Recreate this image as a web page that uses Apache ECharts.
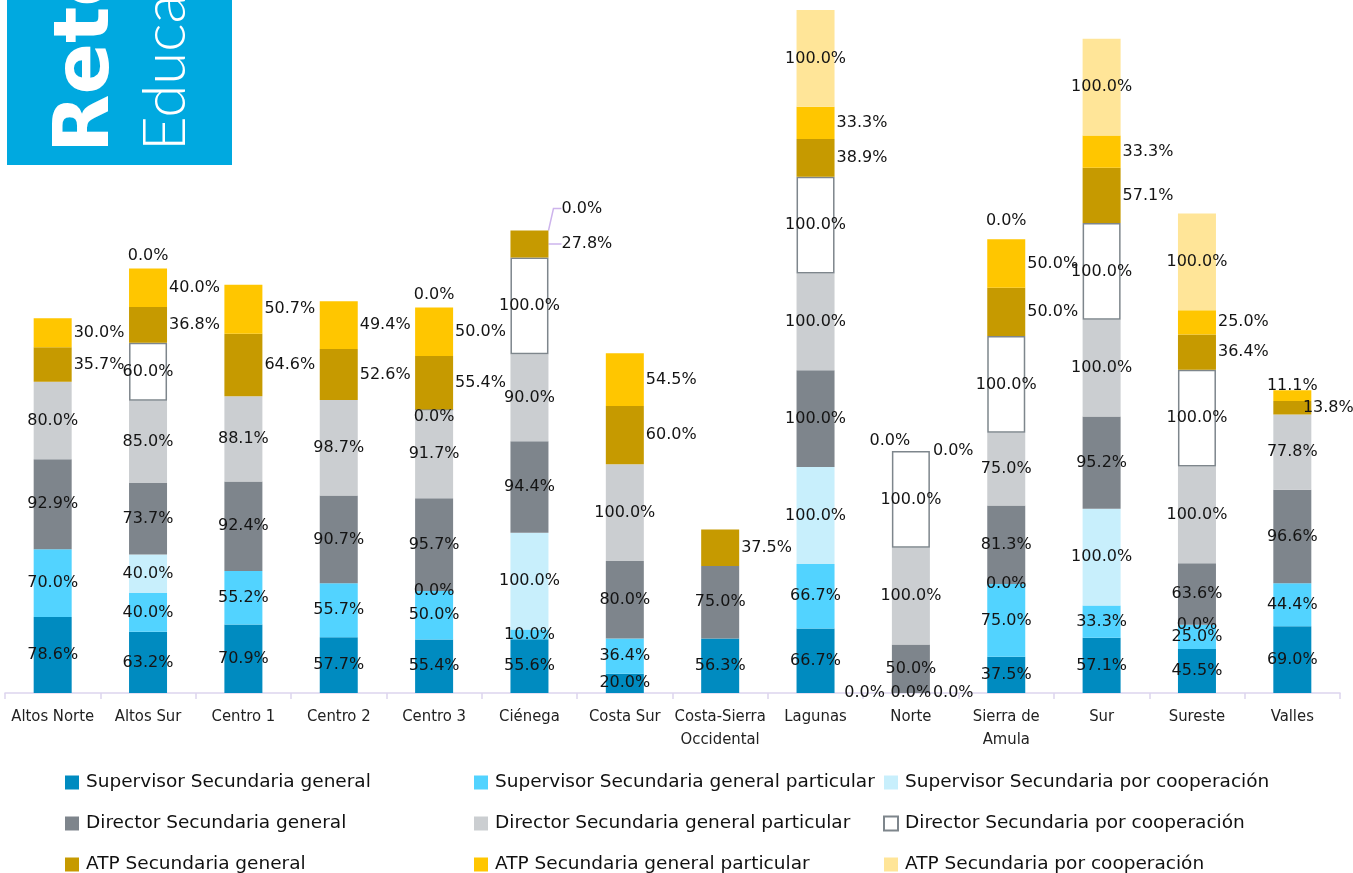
<!DOCTYPE html>
<html>
<head>
<meta charset="utf-8">
<script src="https://cdn.jsdelivr.net/npm/echarts@6/dist/echarts.min.js"></script>
<style>
html,body{margin:0;padding:0;background:#fff;}
#main{width:1353px;height:873px;}
</style>
</head>
<body>
<div id="main"></div>
<script>
// ---- DATA ----
var categories = ['Altos Norte','Altos Sur','Centro 1','Centro 2','Centro 3','Ciénega','Costa Sur','Costa-Sierra\nOccidental','Lagunas','Norte','Sierra de\nAmula','Sur','Sureste','Valles'];
var seriesNames = ['Supervisor Secundaria general','Supervisor Secundaria general particular','Supervisor Secundaria por cooperación','Director Secundaria general','Director Secundaria general particular','Director Secundaria por cooperación','ATP Secundaria general','ATP Secundaria general particular','ATP Secundaria por cooperación'];
var supGeneral      = [78.6, 63.2, 70.9, 57.7, 55.4, 55.6, 20.0, 56.3, 66.7, 0.0, 37.5, 57.1, 45.5, 69.0];
var supParticular   = [70.0, 40.0, 55.2, 55.7, 50.0, 10.0, 36.4, null, 66.7, 0.0, 75.0, 33.3, 25.0, 44.4];
var supCooperacion  = [null, 40.0, null, null, 0.0, 100.0, null, null, 100.0, 0.0, 0.0, 100.0, 0.0, null];
var dirGeneral      = [92.9, 73.7, 92.4, 90.7, 95.7, 94.4, 80.0, 75.0, 100.0, 50.0, 81.3, 95.2, 63.6, 96.6];
var dirParticular   = [80.0, 85.0, 88.1, 98.7, 91.7, 90.0, 100.0, null, 100.0, 100.0, 75.0, 100.0, 100.0, 77.8];
var dirCooperacion  = [null, 60.0, null, null, 0.0, 100.0, null, null, 100.0, 100.0, 100.0, 100.0, 100.0, null];
var atpGeneral      = [35.7, 36.8, 64.6, 52.6, 55.4, 27.8, 60.0, 37.5, 38.9, 0.0, 50.0, 57.1, 36.4, 13.8];
var atpParticular   = [30.0, 40.0, 50.7, 49.4, 50.0, null, 54.5, null, 33.3, 0.0, 50.0, 33.3, 25.0, 11.1];
var atpCooperacion  = [null, 0.0, null, null, 0.0, 0.0, null, null, 100.0, null, 0.0, 100.0, 100.0, null];

// ---- STYLE ----
var allData = [supGeneral, supParticular, supCooperacion, dirGeneral, dirParticular, dirCooperacion, atpGeneral, atpParticular, atpCooperacion];
var colors = ['#008BC0','#52D3FF','#C8EFFC','#7E858C','#CBCED1','#FFFFFF','#C69A00','#FFC600','#FFE598'];
var labelFont = 'DejaVu Sans';
var labelSize = 16;

function defaultLabel(si, v) {
  if (si === 6 || si === 7) return {position: 'right', distance: 2};
  if (si === 8 && v === 0) return {position: 'top', distance: 5};
  return {position: 'inside'};
}
// per-item label position adjustments keyed "seriesIndex-categoryIndex"
var labelOverrides = {
  '0-9': {position: 'left', distance: 7},
  '2-9': {position: 'right', distance: 3},
  '6-9': {position: 'top'},
  '7-9': {position: 'right', distance: 3},
  '8-5': {position: 'right', distance: 2},
  '7-13': {position: 'inside'},
  '6-13': {position: 'inside'}
};
// label shifts (dx, dy); guide: draw a leader line
var labelShifts = {
  '6-5': {dx: 11, dy: 0, guide: true},
  '8-5': {dx: 11, dy: -22, guide: true},
  '6-9': {dx: -21, dy: 0},
  '5-4': {dx: 0, dy: 7},
  '7-13': {dx: 0, dy: -10},
  '6-13': {dx: 36, dy: 0},
  '8-10': {dx: 0, dy: -5}
};

var series = allData.map(function (arr, si) {
  return {
    name: seriesNames[si],
    type: 'bar',
    stack: 'total',
    barWidth: 38,
    itemStyle: si === 5 ? {color: '#FFFFFF', borderColor: '#7E868C', borderWidth: 1.5} : {color: colors[si]},
    data: arr.map(function (v, ci) {
      if (v === null) return null;
      var key = si + '-' + ci;
      var lab = Object.assign({show: true}, defaultLabel(si, v), labelOverrides[key] || {});
      var item = {value: v, label: lab};
      if (labelShifts[key] && labelShifts[key].guide) {
        item.labelLine = {show: true, length2: 8, lineStyle: {color: '#CDB4EC', width: 1.5}};
      }
      return item;
    }),
    label: {
      show: true,
      fontFamily: labelFont,
      fontSize: labelSize,
      color: '#141414',
      formatter: function (p) { return p.value.toFixed(1) + '%'; }
    },
    labelLine: {show: false},
    labelLayout: function (p) {
      var m = labelShifts[p.seriesIndex + '-' + p.dataIndex];
      return m ? {dx: m.dx, dy: m.dy} : undefined;
    },
    emphasis: {disabled: true}
  };
});

function legendCol(left, idxs) {
  return {
    orient: 'vertical',
    left: left,
    top: 768,
    height: 160,
    itemWidth: 14,
    itemHeight: 14,
    itemGap: 22,
    icon: 'rect',
    data: idxs.map(function (i) { return seriesNames[i]; }),
    textStyle: {fontFamily: 'DejaVu Sans', fontSize: 18.5, lineHeight: 18, color: '#111', padding: [0, 0, 0, 2]}
  };
}

var chart = echarts.init(document.getElementById('main'), null, {renderer: 'canvas'});
chart.setOption({
  animation: false,
  backgroundColor: '#fff',
  grid: {left: 5, right: 13, top: 0, bottom: 180, containLabel: false},
  xAxis: {
    type: 'category',
    data: categories,
    axisLine: {lineStyle: {color: '#DDD5EE', width: 1.5}},
    axisTick: {show: true, length: 6, lineStyle: {color: '#DDD5EE', width: 1.5}},
    axisLabel: {interval: 0, fontFamily: "'DejaVu Sans Condensed', 'Liberation Sans'", fontSize: 16.5, color: '#222', margin: 12, lineHeight: 23}
  },
  yAxis: {type: 'value', min: 0, max: 716, show: false, splitLine: {show: false}},
  legend: [legendCol(60, [0, 3, 6]), legendCol(469, [1, 4, 7]), legendCol(878, [2, 5, 8])],
  graphic: [
    {type: 'rect', left: 7, top: 0, shape: {width: 225, height: 165}, style: {fill: '#00A9E0'}, silent: true},
    {type: 'text', x: 126, y: 153, rotation: Math.PI / 2, silent: true,
      style: {text: 'Reto', fill: '#fff', font: 'bold 76px "DejaVu Sans"', textAlign: 'left', textVerticalAlign: 'bottom'}},
    {type: 'text', x: 196, y: 151, rotation: Math.PI / 2, silent: true,
      style: {text: 'Educativo', fill: '#fff', font: '300 60px Lato', textAlign: 'left', textVerticalAlign: 'bottom'}}
  ],
  series: series
});
</script>
</body>
</html>
